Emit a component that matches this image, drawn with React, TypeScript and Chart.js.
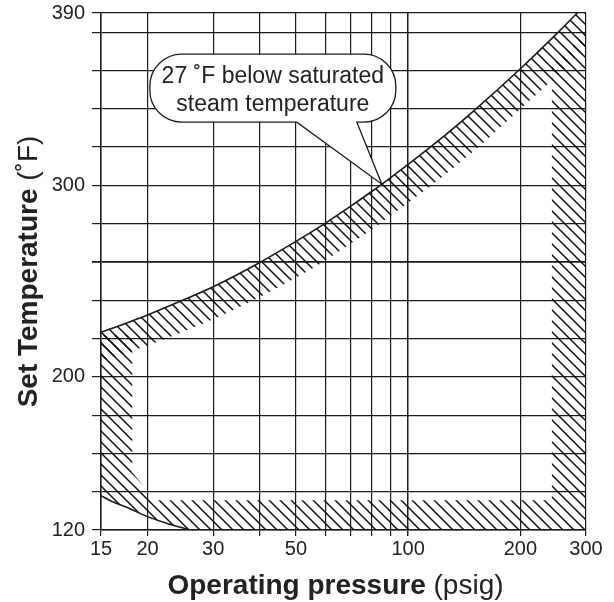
import React, { useEffect, useRef } from 'react';
import { Chart, registerables } from 'chart.js';

Chart.register(...registerables);

// ---- axis ticks ----
const pressureTicks = [15, 20, 30, 40, 50, 60, 70, 80, 90, 100, 200, 300];
const pressureLabels = [15, 20, 30, 50, 100, 200, 300];
const tempTicks = [120, 140, 160, 180, 200, 220, 240, 260, 280, 300, 320, 340, 360, 380, 390];
const tempLabels = [120, 200, 300, 390];

// ---- upper boundary: 27 °F below saturated steam temperature ----
const curvePressure = [15, 17.5, 20, 25, 30, 40, 50, 60, 70, 80, 90, 100, 125, 150, 200, 250, 300];
const curveTemp = [223.3, 228, 232.3, 240.2, 247, 259.7, 270.7, 280.3, 289, 296.9, 304.2, 310.9, 325.8, 338.9, 360.9, 379.1, 394.7];
// inner edge of the hatched band under the upper boundary
const curveInnerTemp = [208.3, 212.5, 216.3, 223.7, 230, 241.7, 251.7, 260.8, 269.5, 276.9, 284.2, 290.9, 305.3, 317.9, 339.9, 357.1, 372.7];

// ---- hatched U-shaped band (left, bottom, right) ----
const bandPressure = [15, 15, 16, 17.5, 20, 22.5, 26, 300, 300, 243, 243, 21, 18.2, 18.2, 15];
const bandTemp = [222, 138, 135, 132, 127, 123.5, 120, 120, 380, 362, 135.5, 135.5, 150, 222, 222];

// ---- lower-left boundary curve ----
const cornerPressure = [15, 16, 17.5, 20, 22.5, 26];
const cornerTemp = [138, 135, 132, 127, 123.5, 120];

// ---- callout ----
const calloutPressure = 85;
const calloutTemp = 300.6;
const calloutLines = ['27 \u02DAF below saturated', 'steam temperature'];

const xTitleBold = 'Operating pressure';
const xTitleRegular = ' (psig)';
const yTitleBold = 'Set Temperature';
const yTitleRegular = ' (\u02DAF)';

const FONT = '"Liberation Sans", Arial, Helvetica, sans-serif';
const INK = '#1a1a1a';

function makeHatch(): CanvasPattern | string {
  const c = document.createElement('canvas');
  const s = 11;
  c.width = s;
  c.height = s;
  const g = c.getContext('2d');
  if (!g) return INK;
  g.strokeStyle = '#111';
  g.lineWidth = 1.5;
  g.lineCap = 'square';
  g.beginPath();
  g.moveTo(-2, -2);
  g.lineTo(s + 2, s + 2);
  g.moveTo(-2, s - 2);
  g.lineTo(2, s + 2);
  g.moveTo(s - 2, -2);
  g.lineTo(s + 2, 2);
  g.stroke();
  const p = g.createPattern(c, 'repeat');
  return p || INK;
}

const overlayPlugin = {
  id: 'overlay',
  afterDraw(chart: any) {
    const { ctx, chartArea, scales } = chart;
    const xs = scales.x;
    const ys = scales.y;
    ctx.save();

    // callout bubble
    const tx = xs.getPixelForValue(calloutPressure);
    const ty = ys.getPixelForValue(calloutTemp);
    const L = tx - 232, R = tx + 14, T = ty - 130, B = ty - 62, r = 32;
    const b1 = tx - 85, b2 = tx - 25;
    ctx.beginPath();
    ctx.moveTo(L + r, T);
    ctx.lineTo(R - r, T);
    ctx.arcTo(R, T, R, T + r, r);
    ctx.lineTo(R, B - r);
    ctx.arcTo(R, B, R - r, B, r);
    ctx.lineTo(b2, B);
    ctx.lineTo(tx, ty);
    ctx.lineTo(b1, B);
    ctx.lineTo(L + r, B);
    ctx.arcTo(L, B, L, B - r, r);
    ctx.lineTo(L, T + r);
    ctx.arcTo(L, T, L + r, T, r);
    ctx.closePath();
    ctx.fillStyle = '#fff';
    ctx.fill();
    ctx.lineWidth = 1.3;
    ctx.strokeStyle = INK;
    ctx.stroke();

    ctx.fillStyle = '#222';
    ctx.font = `23px ${FONT}`;
    ctx.textAlign = 'center';
    ctx.textBaseline = 'alphabetic';
    const cx = (L + R) / 2;
    ctx.fillText(calloutLines[0], cx, ty - 101);
    ctx.fillText(calloutLines[1], cx, ty - 73);

    // x-axis title (bold + regular)
    ctx.textAlign = 'left';
    const boldFont = `bold 28px ${FONT}`;
    const regFont = `28px ${FONT}`;
    ctx.font = boldFont;
    const xw1 = ctx.measureText(xTitleBold).width;
    ctx.font = regFont;
    const xw2 = ctx.measureText(xTitleRegular).width;
    const xcx = (chartArea.left + chartArea.right) / 2 - 8;
    const xStart = xcx - (xw1 + xw2) / 2;
    const xBase = chartArea.bottom + 64;
    ctx.font = boldFont;
    ctx.fillText(xTitleBold, xStart, xBase);
    ctx.font = regFont;
    ctx.fillText(xTitleRegular, xStart + xw1, xBase);

    // y-axis title, rotated
    ctx.font = boldFont;
    const yw1 = ctx.measureText(yTitleBold).width;
    ctx.font = regFont;
    const yw2 = ctx.measureText(yTitleRegular).width;
    const ycy = (chartArea.top + chartArea.bottom) / 2;
    ctx.translate(chartArea.left - 64, ycy);
    ctx.rotate(-Math.PI / 2);
    const yStart = -(yw1 + yw2) / 2;
    ctx.font = boldFont;
    ctx.fillText(yTitleBold, yStart, 0);
    ctx.font = regFont;
    ctx.fillText(yTitleRegular, yStart + yw1, 0);

    ctx.restore();
  },
};

export default function App() {
  const ref = useRef<HTMLCanvasElement | null>(null);

  useEffect(() => {
    document.body.style.margin = '0';
    const canvas = ref.current;
    if (!canvas) return;
    const hatch = makeHatch();

    const curve = curvePressure.map((p, i) => ({ x: p, y: curveTemp[i] }));
    const inner = curvePressure.map((p, i) => ({ x: p, y: curveInnerTemp[i] }));
    const band = bandPressure.map((p, i) => ({ x: p, y: bandTemp[i] }));
    const corner = cornerPressure.map((p, i) => ({ x: p, y: cornerTemp[i] }));

    const chart = new Chart(canvas, {
      type: 'line',
      data: {
        datasets: [
          {
            data: curve,
            borderColor: INK,
            borderWidth: 1.6,
            pointRadius: 0,
            cubicInterpolationMode: 'monotone',
            fill: '+1',
            backgroundColor: hatch as any,
          },
          {
            data: inner,
            borderColor: 'rgba(0,0,0,0)',
            borderWidth: 0,
            pointRadius: 0,
            cubicInterpolationMode: 'monotone',
            fill: false,
          },
          {
            data: band,
            borderColor: 'rgba(0,0,0,0)',
            borderWidth: 0,
            pointRadius: 0,
            tension: 0,
            fill: 'shape',
            backgroundColor: hatch as any,
          },
          {
            data: corner,
            borderColor: INK,
            borderWidth: 1.5,
            pointRadius: 0,
            cubicInterpolationMode: 'monotone',
            fill: false,
          },
        ],
      },
      options: {
        responsive: false,
        animation: false,
        events: [],
        layout: { padding: { left: 0, top: 13, right: 28, bottom: 0 } },
        plugins: {
          legend: { display: false },
          tooltip: { enabled: false },
          title: { display: false },
        },
        scales: {
          x: {
            type: 'logarithmic',
            min: 15,
            max: 300,
            afterBuildTicks: (scale: any) => {
              scale.ticks = pressureTicks.map((v) => ({ value: v }));
            },
            afterFit: (scale: any) => {
              scale.height = 72;
              scale.paddingLeft = 0;
              scale.paddingRight = 0;
            },
            ticks: {
              autoSkip: false,
              maxRotation: 0,
              minRotation: 0,
              padding: 1,
              color: '#222',
              font: { size: 20, family: FONT },
              callback: (v: any) => (pressureLabels.includes(Number(v)) ? String(v) : ''),
            },
            grid: {
              color: INK,
              lineWidth: (c: any) => (c.tick && c.tick.value === 100 ? 1.5 : 1.2),
              tickLength: 6,
            },
            border: { color: INK, width: 1.5 },
          },
          y: {
            type: 'linear',
            min: 120,
            max: 390,
            afterBuildTicks: (scale: any) => {
              scale.ticks = tempTicks.map((v) => ({ value: v }));
            },
            afterFit: (scale: any) => {
              scale.width = 101;
              scale.paddingTop = 0;
              scale.paddingBottom = 0;
            },
            ticks: {
              autoSkip: false,
              padding: 7,
              color: '#222',
              font: { size: 20, family: FONT },
              callback: (v: any) => (tempLabels.includes(Number(v)) ? String(v) : ''),
            },
            grid: {
              color: INK,
              lineWidth: (c: any) => (c.tick && c.tick.value === 260 ? 1.8 : 1.2),
              tickLength: 9,
            },
            border: { color: INK, width: 1.5 },
          },
        },
      },
      plugins: [overlayPlugin],
    });

    return () => chart.destroy();
  }, []);

  return <canvas ref={ref} width={614} height={602} style={{ display: 'block' }} />;
}
